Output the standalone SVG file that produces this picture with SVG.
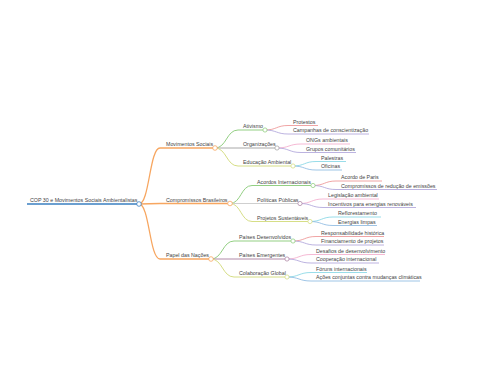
<svg xmlns="http://www.w3.org/2000/svg" width="480" height="384" viewBox="0 0 480 384">
<style>
text{font-family:"Liberation Sans",Arial,sans-serif;font-size:5.3px;fill:#444}
path{fill:none}
.l1{stroke-width:1.3}
.l2{stroke-width:1}
.l3{stroke-width:0.8}
circle{fill:#fff;stroke-width:0.8}
</style>
<rect width="480" height="384" fill="#fff"/>
<g id="connectors">
<!-- root to level1 -->
<path class="l1" stroke="#f7a660" d="M139 204 C149.5 204 149.5 148 160 148"/>
<path class="l1" stroke="#f7a660" d="M139 204 L160 203.5"/>
<path class="l1" stroke="#f7a660" d="M139 204 C149.5 204 149.5 259 160 259"/>
<!-- Movimentos -->
<path class="l2" stroke="#93cf83" d="M215 148 C226.5 148 226.5 130 238 130"/>
<path class="l2" stroke="#a8a8a8" d="M215 148 L238 148"/>
<path class="l2" stroke="#d6de86" d="M215 148 C226.5 148 226.5 166 238 166"/>
<!-- Compromissos -->
<path class="l2" stroke="#93cf83" d="M230 203.5 C241 203.5 241 185.5 252 185.5"/>
<path class="l2" stroke="#cfcfcf" d="M230 203.5 L252 203.5"/>
<path class="l2" stroke="#d6de86" d="M230 203.5 C241 203.5 241 221.5 252 221.5"/>
<!-- Papel -->
<path class="l2" stroke="#93cf83" d="M211 259 C222.5 259 222.5 241 234 241"/>
<path class="l2" stroke="#b18aa8" d="M211 259 L234 259"/>
<path class="l2" stroke="#d6de86" d="M211 259 C222.5 259 222.5 277 234 277"/>
<!-- level3 -->
<path class="l3" stroke="#ec8e8e" d="M265 130 C276.5 130 276.5 125.5 288 125.5"/>
<path class="l3" stroke="#ab9fd8" d="M265 130 C276.5 130 276.5 134 288 134"/>
<path class="l3" stroke="#f2a7c9" d="M277 148 C289 148 289 144 301 144"/>
<path class="l3" stroke="#ab9fd8" d="M277 148 C289 148 289 152.5 301 152.5"/>
<path class="l3" stroke="#7fd4e3" d="M293 166 C304.5 166 304.5 161.5 316 161.5"/>
<path class="l3" stroke="#86b6e0" d="M293 166 C304.5 166 304.5 170 316 170"/>
<path class="l3" stroke="#ec8e8e" d="M313 185.5 C324.5 185.5 324.5 181 336 181"/>
<path class="l3" stroke="#ab9fd8" d="M313 185.5 C324.5 185.5 324.5 189.5 336 189.5"/>
<path class="l3" stroke="#f2a7c9" d="M300 203.5 C311.5 203.5 311.5 199 323 199"/>
<path class="l3" stroke="#ab9fd8" d="M300 203.5 C311.5 203.5 311.5 207.5 323 207.5"/>
<path class="l3" stroke="#7fd4e3" d="M310 221.5 C321.5 221.5 321.5 217 333 217"/>
<path class="l3" stroke="#86b6e0" d="M310 221.5 C321.5 221.5 321.5 225.5 333 225.5"/>
<path class="l3" stroke="#ec8e8e" d="M293 241 C304.5 241 304.5 236.5 316 236.5"/>
<path class="l3" stroke="#ab9fd8" d="M293 241 C304.5 241 304.5 245 316 245"/>
<path class="l3" stroke="#f2a7c9" d="M287 259 C299 259 299 254.5 311 254.5"/>
<path class="l3" stroke="#ab9fd8" d="M287 259 C299 259 299 263 311 263"/>
<path class="l3" stroke="#7fd4e3" d="M287 277 C299 277 299 272.5 311 272.5"/>
<path class="l3" stroke="#86b6e0" d="M287 277 C299 277 299 281 311 281"/>
</g>

<g id="root">
<line x1="27" y1="204" x2="139" y2="204" stroke="#3a7fc0" stroke-width="1.3"/>
<text x="30" y="202">COP 30 e Movimentos Sociais Ambientalistas</text>
<circle cx="139" cy="204" r="2.3" stroke="#3a7fc0"/>
</g>

<g id="n-movimentos">
<line x1="160" y1="148" x2="215" y2="148" stroke="#f7a660" stroke-width="1.3"/>
<text x="166" y="146">Movimentos Sociais</text>
<circle cx="215" cy="148" r="2.3" stroke="#f7a660"/>
</g>
<g id="n-compromissos">
<line x1="160" y1="203.5" x2="230" y2="203.5" stroke="#f7a660" stroke-width="1.3"/>
<text x="166" y="201.5">Compromissos Brasileiros</text>
<circle cx="230" cy="203.5" r="2.3" stroke="#f7a660"/>
</g>
<g id="n-papel">
<line x1="160" y1="259" x2="211" y2="259" stroke="#f7a660" stroke-width="1.3"/>
<text x="166" y="257">Papel das Nações</text>
<circle cx="211" cy="259" r="2.3" stroke="#f7a660"/>
</g>

<g id="n-ativismo">
<line x1="238" y1="130" x2="265" y2="130" stroke="#93cf83"/>
<text x="243" y="128">Ativismo</text>
<circle cx="265" cy="130" r="2.1" stroke="#93cf83"/>
</g>
<g id="n-organizacoes">
<line x1="238" y1="148" x2="277" y2="148" stroke="#a8a8a8"/>
<text x="243" y="146">Organizações</text>
<circle cx="277" cy="148" r="2.1" stroke="#a8a8a8"/>
</g>
<g id="n-educacao">
<line x1="238" y1="166" x2="293" y2="166" stroke="#d6de86"/>
<text x="243" y="164">Educação Ambiental</text>
<circle cx="293" cy="166" r="2.1" stroke="#d6de86"/>
</g>
<g id="n-acordos">
<line x1="252" y1="185.5" x2="313" y2="185.5" stroke="#93cf83"/>
<text x="257" y="183.5">Acordos Internacionais</text>
<circle cx="313" cy="185.5" r="2.1" stroke="#93cf83"/>
</g>
<g id="n-politicas">
<line x1="252" y1="203.5" x2="300" y2="203.5" stroke="#cfcfcf"/>
<text x="257" y="201.5">Políticas Públicas</text>
<circle cx="300" cy="203.5" r="2.1" stroke="#b08aa8"/>
</g>
<g id="n-projetos">
<line x1="252" y1="221.5" x2="310" y2="221.5" stroke="#d6de86"/>
<text x="257" y="219.5">Projetos Sustentáveis</text>
<circle cx="310" cy="221.5" r="2.1" stroke="#d6de86"/>
</g>
<g id="n-desenvolvidos">
<line x1="234" y1="241" x2="293" y2="241" stroke="#93cf83"/>
<text x="239" y="239">Países Desenvolvidos</text>
<circle cx="293" cy="241" r="2.1" stroke="#93cf83"/>
</g>
<g id="n-emergentes">
<line x1="234" y1="259" x2="287" y2="259" stroke="#b18aa8"/>
<text x="239" y="257">Países Emergentes</text>
<circle cx="287" cy="259" r="2.1" stroke="#b18aa8"/>
</g>
<g id="n-colaboracao">
<line x1="234" y1="277" x2="287" y2="277" stroke="#d6de86"/>
<text x="239" y="275">Colaboração Global</text>
<circle cx="287" cy="277" r="2.1" stroke="#d6de86"/>
</g>

<g id="n-protestos"><line x1="288" y1="125.5" x2="318" y2="125.5" stroke="#ec8e8e" stroke-width="0.8"/><text x="293" y="123.8">Protestos</text></g>
<g id="n-campanhas"><line x1="288" y1="134" x2="369" y2="134" stroke="#ab9fd8" stroke-width="0.8"/><text x="293" y="132.3">Campanhas de conscientização</text></g>
<g id="n-ongs"><line x1="301" y1="144" x2="350" y2="144" stroke="#f2a7c9" stroke-width="0.8"/><text x="306" y="142.3">ONGs ambientais</text></g>
<g id="n-grupos"><line x1="301" y1="152.5" x2="356" y2="152.5" stroke="#ab9fd8" stroke-width="0.8"/><text x="306" y="150.8">Grupos comunitários</text></g>
<g id="n-palestras"><line x1="316" y1="161.5" x2="346" y2="161.5" stroke="#7fd4e3" stroke-width="0.8"/><text x="321" y="159.8">Palestras</text></g>
<g id="n-oficinas"><line x1="316" y1="170" x2="342" y2="170" stroke="#86b6e0" stroke-width="0.8"/><text x="321" y="168.3">Oficinas</text></g>
<g id="n-paris"><line x1="336" y1="181" x2="382" y2="181" stroke="#ec8e8e" stroke-width="0.8"/><text x="341" y="179.3">Acordo de Paris</text></g>
<g id="n-emissoes"><line x1="336" y1="189.5" x2="437" y2="189.5" stroke="#ab9fd8" stroke-width="0.8"/><text x="341" y="187.8">Compromissos de redução de emissões</text></g>
<g id="n-legislacao"><line x1="323" y1="199" x2="379" y2="199" stroke="#f2a7c9" stroke-width="0.8"/><text x="328" y="197.3">Legislação ambiental</text></g>
<g id="n-incentivos"><line x1="323" y1="207.5" x2="416" y2="207.5" stroke="#ab9fd8" stroke-width="0.8"/><text x="328" y="205.8">Incentivos para energias renováveis</text></g>
<g id="n-reflorestamento"><line x1="333" y1="217" x2="381" y2="217" stroke="#7fd4e3" stroke-width="0.8"/><text x="338" y="215.3">Reflorestamento</text></g>
<g id="n-energias"><line x1="333" y1="225.5" x2="377" y2="225.5" stroke="#86b6e0" stroke-width="0.8"/><text x="338" y="223.8">Energias limpas</text></g>
<g id="n-responsabilidade"><line x1="316" y1="236.5" x2="384" y2="236.5" stroke="#ec8e8e" stroke-width="0.8"/><text x="321" y="234.8">Responsabilidade histórica</text></g>
<g id="n-financiamento"><line x1="316" y1="245" x2="384" y2="245" stroke="#ab9fd8" stroke-width="0.8"/><text x="321" y="243.3">Financiamento de projetos</text></g>
<g id="n-desafios"><line x1="311" y1="254.5" x2="385" y2="254.5" stroke="#f2a7c9" stroke-width="0.8"/><text x="316" y="252.8">Desafios de desenvolvimento</text></g>
<g id="n-cooperacao"><line x1="311" y1="263" x2="379" y2="263" stroke="#ab9fd8" stroke-width="0.8"/><text x="316" y="261.3">Cooperação internacional</text></g>
<g id="n-foruns"><line x1="311" y1="272.5" x2="367" y2="272.5" stroke="#7fd4e3" stroke-width="0.8"/><text x="316" y="270.8">Fóruns internacionais</text></g>
<g id="n-acoes"><line x1="311" y1="281" x2="420" y2="281" stroke="#86b6e0" stroke-width="0.8"/><text x="316" y="279.3">Ações conjuntas contra mudanças climáticas</text></g>
</svg>
